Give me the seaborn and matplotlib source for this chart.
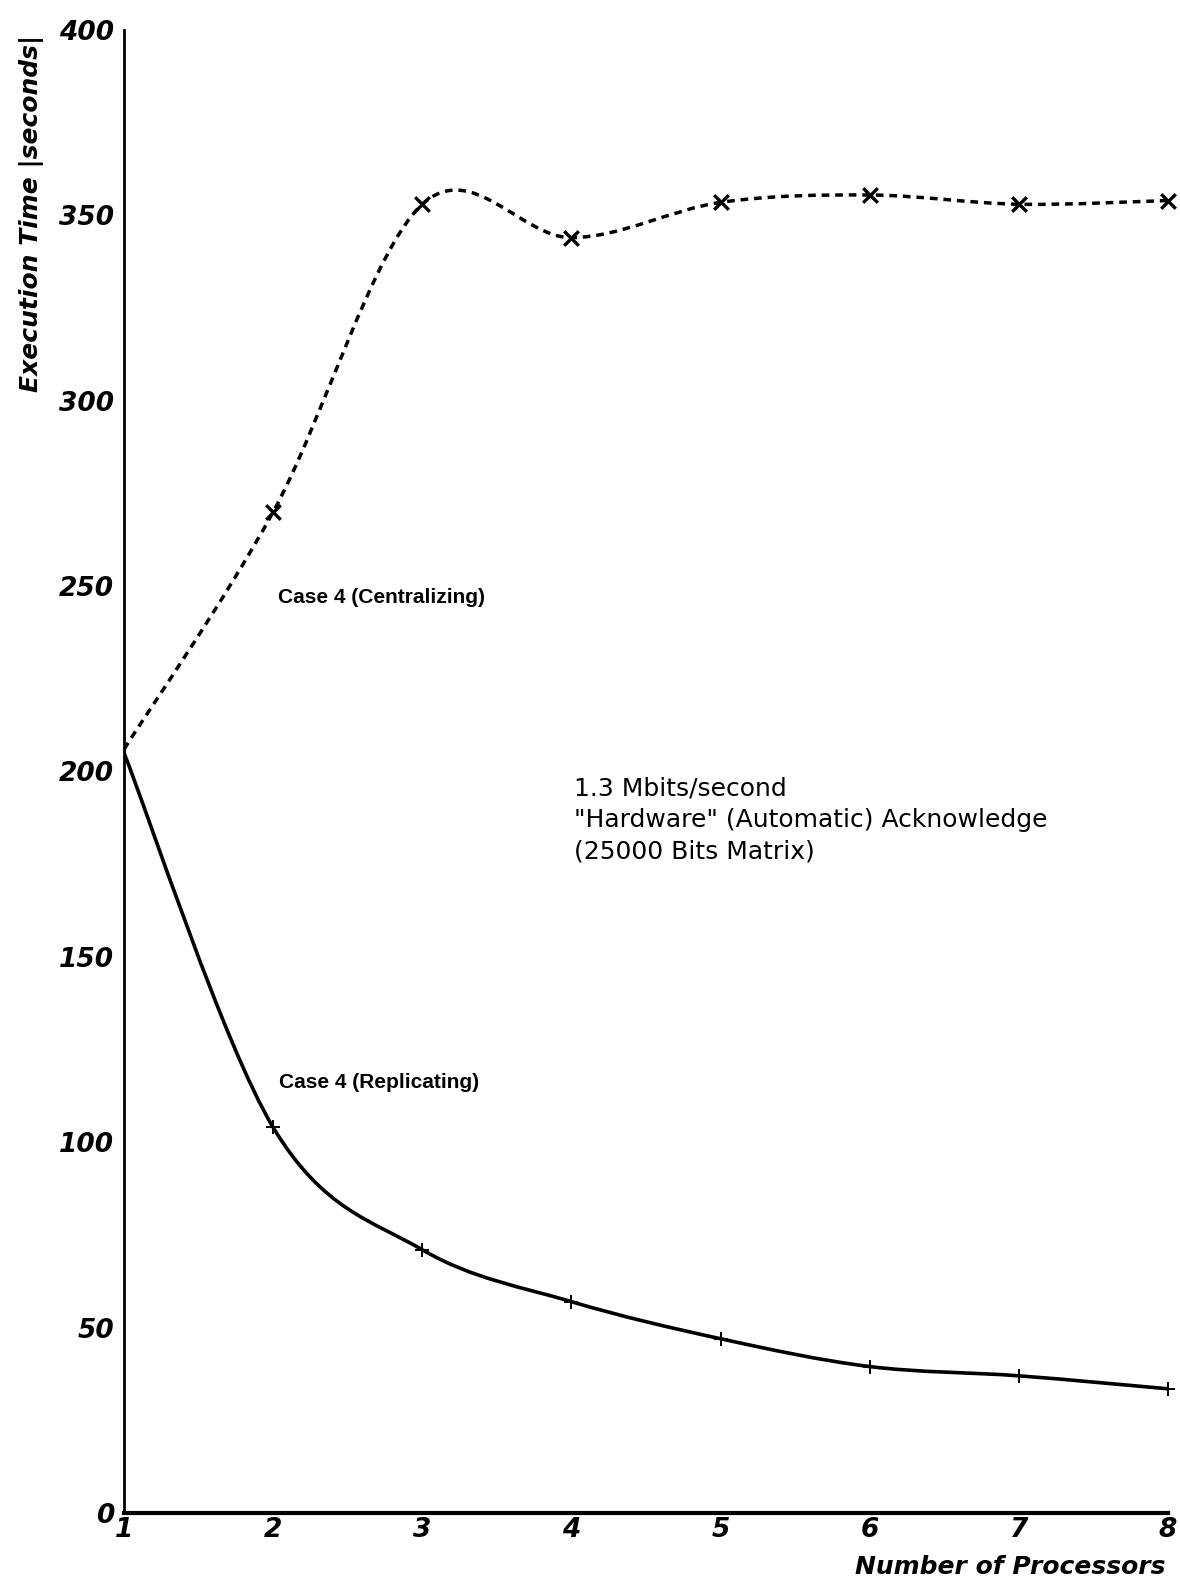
import numpy as np
import matplotlib
matplotlib.use('Agg')
import matplotlib.pyplot as plt
import seaborn as sns
from matplotlib.path import Path
from matplotlib.patches import PathPatch

# Data
processors = [1, 2, 3, 4, 5, 6, 7, 8]
centralizing = [206, 270, 353, 344, 353.5, 355.5, 353, 354]
replicating = [205, 104, 71, 57, 47, 39.5, 37, 33.5]
y_ticks = [0, 50, 100, 150, 200, 250, 300, 350, 400]

sns.set_style("white")
plt.rcParams['font.family'] = ['DejaVu Sans']
plt.rcParams.update({'text.color': 'black', 'axes.labelcolor': 'black',
                     'xtick.color': 'black', 'ytick.color': 'black',
                     'axes.edgecolor': 'black'})


def smooth_path(xs, ys):
    # Catmull-Rom through the measured points, drawn as bezier segments
    pts = np.column_stack([xs, ys]).astype(float)
    padded = np.vstack([pts[0], pts, pts[-1]])
    verts = [pts[0]]
    codes = [Path.MOVETO]
    for i in range(len(pts) - 1):
        p0, p1, p2, p3 = padded[i], padded[i + 1], padded[i + 2], padded[i + 3]
        verts += [p1 + (p2 - p0) / 6, p2 - (p3 - p1) / 6, p2]
        codes += [Path.CURVE4] * 3
    return Path(verts, codes)


fig = plt.figure(figsize=(11.8, 15.79), dpi=100)
ax = fig.add_axes([0.1051, 0.0418, 0.8847, 0.9392])

# Curves
ax.add_patch(PathPatch(smooth_path(processors, centralizing), fill=False,
                       edgecolor='black', linewidth=2.5,
                       linestyle=(0, (2.2, 1.7)), capstyle='butt', zorder=3))
ax.add_patch(PathPatch(smooth_path(processors, replicating), fill=False,
                       edgecolor='black', linewidth=2.6, zorder=3))

# Point markers
sns.scatterplot(x=processors[1:], y=centralizing[1:], marker='x', s=110,
                color='black', linewidth=2.4, ax=ax, zorder=5, clip_on=False)
sns.scatterplot(x=processors[1:], y=replicating[1:], marker='+', s=90,
                color='black', linewidth=1.4, ax=ax, zorder=5, clip_on=False)

ax.set_xlim(1, 8)
ax.set_ylim(0, 400)
ax.set_xticks(processors)
ax.set_yticks(y_ticks)

sns.despine(ax=ax)
ax.spines['left'].set_linewidth(2.0)
ax.spines['bottom'].set_linewidth(3.0)

tick_font = dict(family='DejaVu Sans', weight='bold', style='italic', size=19)
ax.set_xticklabels([str(p) for p in processors], fontdict=tick_font)
ax.set_yticklabels([str(t) for t in y_ticks], fontdict=tick_font)
ax.tick_params(axis='y', direction='out', length=6, width=2, pad=1)
ax.tick_params(axis='x', direction='in', length=8, width=2, pad=3)

label_font = dict(family='DejaVu Sans', weight='bold', style='italic', size=18)
ax.set_ylabel('Execution Time |seconds|', fontdict=label_font)
ax.yaxis.set_label_coords(-0.077, 0.876)
ax.set_xlabel('Number of Processors', fontdict=label_font, ha='right', va='baseline')
ax.xaxis.set_label_coords(0.998, -0.0411)

# Annotations
case_font = dict(family=['Liberation Sans', 'DejaVu Sans'], weight='bold', size=15)
ax.text(2.03, 247, 'Case 4 (Centralizing)', va='center', ha='left', **case_font)
ax.text(2.04, 116, 'Case 4 (Replicating)', va='center', ha='left', **case_font)
ax.text(4.02, 187, '1.3 Mbits/second\n"Hardware" (Automatic) Acknowledge\n(25000 Bits Matrix)',
        va='center', ha='left', fontsize=18, linespacing=1.4, family='DejaVu Sans')

fig.savefig('out.png', dpi=100)
